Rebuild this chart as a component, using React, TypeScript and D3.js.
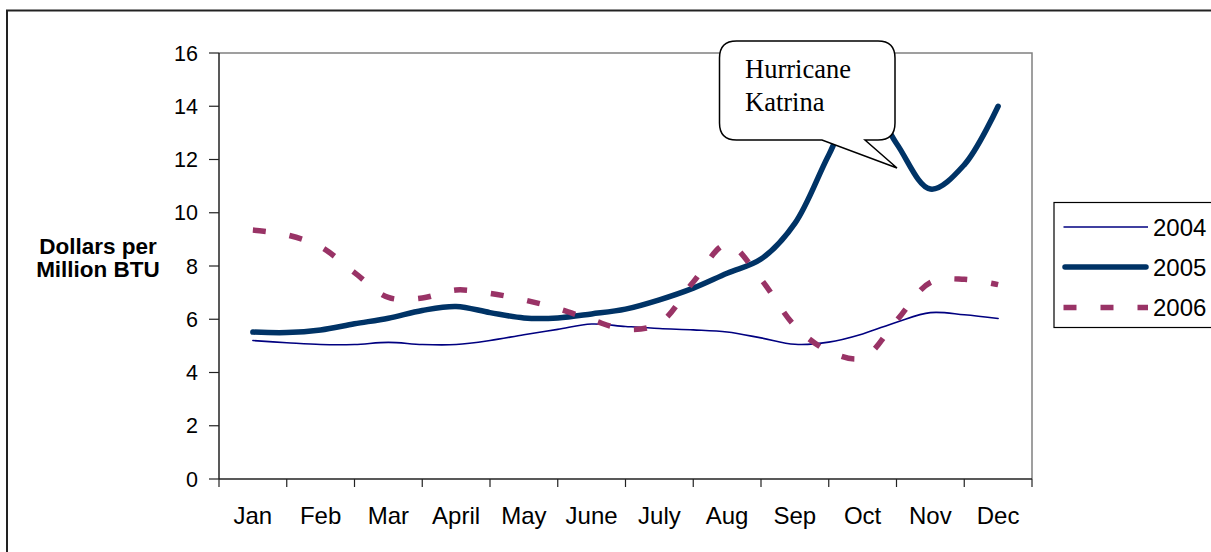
import React from "react";
import * as d3 from "d3";

const months = ["Jan", "Feb", "Mar", "April", "May", "June", "July", "Aug", "Sep", "Oct", "Nov", "Dec"];
const yTicks = [0, 2, 4, 6, 8, 10, 12, 14, 16];

// Half-month samples, from mid-Jan to mid-Dec (23 points)
const series2004 = [5.2, 5.12, 5.05, 5.05, 5.13, 5.05, 5.05, 5.2, 5.42, 5.62, 5.82, 5.73, 5.65, 5.6, 5.52, 5.3, 5.06, 5.14, 5.45, 5.89, 6.25, 6.17, 6.03];
const series2005 = [5.52, 5.5, 5.6, 5.83, 6.04, 6.33, 6.48, 6.25, 6.05, 6.05, 6.2, 6.38, 6.73, 7.17, 7.73, 8.26, 9.6, 12.17, 14.5, 12.6, 10.89, 11.8, 14.0];
const series2006 = [9.35, 9.17, 8.72, 7.75, 6.82, 6.8, 7.1, 6.97, 6.73, 6.4, 5.98, 5.62, 5.85, 7.4, 8.82, 7.5, 5.75, 4.8, 4.55, 5.95, 7.38, 7.5, 7.3];

const seriesNames = ["2004", "2005", "2006"];
const seriesData = [series2004, series2005, series2006];
const seriesColors = ["#000080", "#003366", "#993366"];
const seriesWidths = [1.6, 5.5, 5.5];
const seriesDash = [null, null, "13,24"];

const calloutLines = ["Hurricane", "Katrina"];
const yTitle = ["Dollars per", "Million BTU"];

export default function App() {
  const W = 1211, H = 552;
  const left = 219, right = 1032, top = 53, bottom = 479;
  const xBand = d3.scaleBand<string>().domain(months).range([left, right]).paddingInner(0).paddingOuter(0);
  const bw = xBand.bandwidth();
  const y = d3.scaleLinear().domain([0, 16]).range([bottom, top]);
  const xPos = (i: number) => (xBand(months[Math.floor(i / 2)]) as number) + bw * (i % 2 === 0 ? 0.5 : 1);
  const line = d3
    .line<number>()
    .x((_, i) => xPos(i))
    .y((d) => y(d))
    .curve(d3.curveCatmullRom.alpha(0.5));

  const tickXs = months.map((m) => xBand(m) as number).concat([right]);

  // callout geometry
  const cx0 = 719.5, cx1 = 895, cy0 = 41, cy1 = 140, r = 17;
  const calloutPath = `M${cx0 + r},${cy0} H${cx1 - r} Q${cx1},${cy0} ${cx1},${cy0 + r} V${cy1 - r} Q${cx1},${cy1} ${cx1 - r},${cy1} H865 L897,168 L822,${cy1} H${cx0 + r} Q${cx0},${cy1} ${cx0},${cy1 - r} V${cy0 + r} Q${cx0},${cy0} ${cx0 + r},${cy0} Z`;

  const legendYs = [227, 267, 307.5];

  return (
    <div style={{ position: "absolute", left: 0, top: 0 }}>
      <svg width={W} height={H} style={{ display: "block", background: "#fff" }} fontFamily="'Liberation Sans', Arial, sans-serif">
        <rect x={7} y={10.5} width={1230} height={580} fill="#fff" stroke="#222" strokeWidth={2} />
        {/* plot area border */}
        <path d={`M${left},${top} H${right} V${bottom}`} fill="none" stroke="#808080" strokeWidth={1.5} />
        {/* axes */}
        <line x1={left} x2={left} y1={top} y2={bottom} stroke="#222" strokeWidth={1.5} />
        <line x1={left} x2={right} y1={bottom} y2={bottom} stroke="#222" strokeWidth={1.5} />
        {yTicks.map((t) => (
          <g key={t}>
            <line x1={left - 10} x2={left} y1={y(t)} y2={y(t)} stroke="#222" strokeWidth={1.2} />
            <text x={198} y={y(t)} dy="0.36em" textAnchor="end" fontSize={21.5} fill="#000">
              {t}
            </text>
          </g>
        ))}
        {tickXs.map((tx, i) => (
          <line key={i} x1={tx} x2={tx} y1={bottom} y2={bottom + 8} stroke="#222" strokeWidth={1.2} />
        ))}
        {months.map((m) => (
          <text key={m} x={(xBand(m) as number) + bw / 2} y={524} textAnchor="middle" fontSize={24} fill="#000">
            {m}
          </text>
        ))}
        {/* y title */}
        {yTitle.map((t, i) => (
          <text key={t} x={98} y={254 + i * 23} textAnchor="middle" fontSize={22.5} fontWeight="bold" fill="#000">
            {t}
          </text>
        ))}
        {/* series */}
        {seriesData.map((s, k) => (
          <path
            key={seriesNames[k]}
            d={line(s) as string}
            fill="none"
            stroke={seriesColors[k]}
            strokeWidth={seriesWidths[k]}
            strokeDasharray={seriesDash[k] ?? undefined}
            strokeLinecap={k === 2 ? "butt" : "round"}
            strokeLinejoin="round"
          />
        ))}
        {/* callout */}
        <path d={calloutPath} fill="#fff" stroke="#000" strokeWidth={1.5} />
        {calloutLines.map((t, i) => (
          <text key={t} x={745} y={78 + i * 32.5} fontSize={26.5} fontFamily="'Liberation Serif', 'Times New Roman', serif" fill="#000">
            {t}
          </text>
        ))}
        {/* legend */}
        <rect x={1054} y={202.5} width={200} height={125} fill="#fff" stroke="#000" strokeWidth={1.2} />
        {seriesNames.map((n, k) => (
          <g key={n}>
            <line
              x1={k === 1 ? 1065 : 1063.5}
              x2={k === 1 ? 1146 : 1148}
              y1={legendYs[k]}
              y2={legendYs[k]}
              stroke={seriesColors[k]}
              strokeWidth={seriesWidths[k]}
              strokeDasharray={seriesDash[k] ?? undefined}
              strokeLinecap={k === 1 ? "round" : "butt"}
            />
            <text x={1153} y={legendYs[k]} dy="0.36em" fontSize={24} fill="#000">
              {n}
            </text>
          </g>
        ))}
      </svg>
    </div>
  );
}
